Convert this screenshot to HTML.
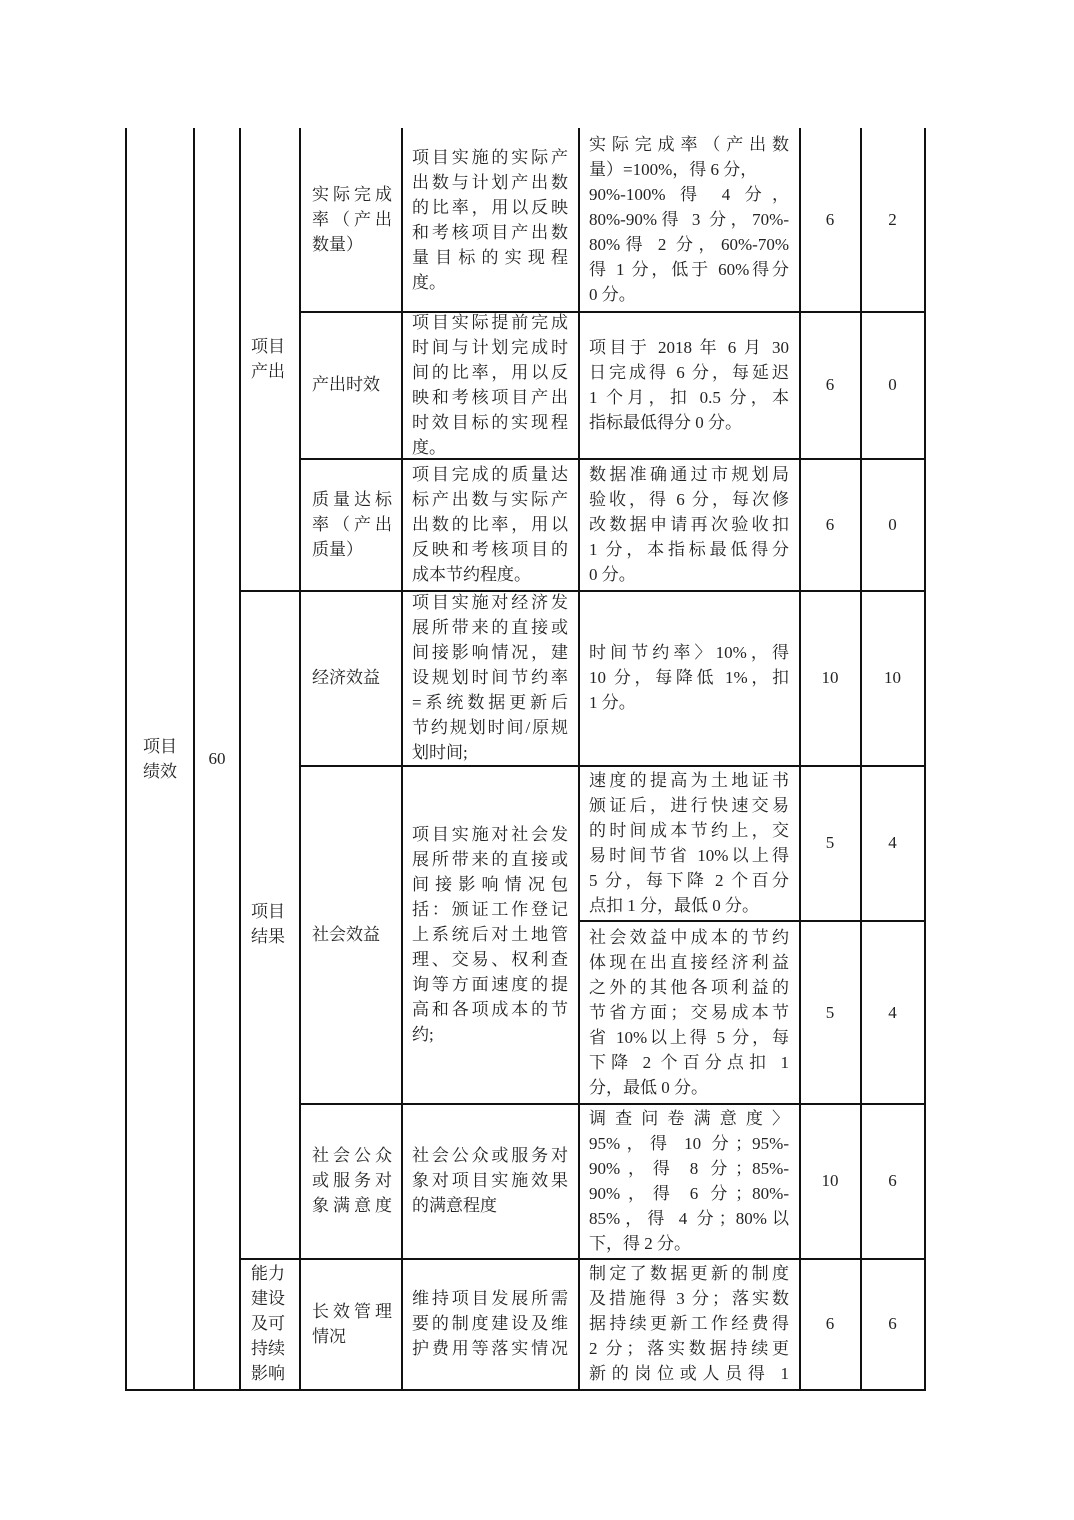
<!DOCTYPE html>
<html><head><meta charset="utf-8"><style>
body{margin:0;background:#fff;}
#p{position:relative;width:1074px;height:1520px;background:#fff;overflow:hidden;font-family:"Liberation Serif","Noto Serif CJK SC","Noto Sans CJK SC",serif;color:#222;font-size:17px;}
.v{position:absolute;width:1.5px;background:#111;top:128px;height:1262px;}
.h{position:absolute;height:1.5px;background:#111;}
.c{position:absolute;display:flex;flex-direction:column;justify-content:center;line-height:25px;}
.c div{white-space:nowrap;}
.f{text-align:justify;text-align-last:justify;}
.m{text-align:center;align-items:center;}
</style></head><body><div id="p">
<div class="v" style="left:125px;width:2px"></div>
<div class="v" style="left:193px"></div>
<div class="v" style="left:239px"></div>
<div class="v" style="left:299px"></div>
<div class="v" style="left:401px"></div>
<div class="v" style="left:578px"></div>
<div class="v" style="left:799px"></div>
<div class="v" style="left:860px"></div>
<div class="v" style="left:924px"></div>
<div class="h" style="left:299px;width:627px;top:311px"></div>
<div class="h" style="left:299px;width:627px;top:458px"></div>
<div class="h" style="left:239px;width:687px;top:590px"></div>
<div class="h" style="left:299px;width:627px;top:765px"></div>
<div class="h" style="left:578px;width:348px;top:920px"></div>
<div class="h" style="left:299px;width:627px;top:1103px"></div>
<div class="h" style="left:239px;width:687px;top:1258px"></div>
<div class="h" style="left:125px;width:801px;top:1389px"></div>

<div class="c m" style="left:126px;width:68px;top:128px;height:1261px"><div>项目</div><div>绩效</div></div>
<div class="c m" style="left:194px;width:46px;top:128px;height:1261px"><div>60</div></div>
<div class="c" style="left:251px;width:48px;top:128px;height:462px"><div>项目</div><div>产出</div></div>
<div class="c" style="left:251px;width:48px;top:590px;height:668px"><div>项目</div><div>结果</div></div>
<div class="c" style="left:251px;width:48px;top:1258px;height:131px"><div>能力</div><div>建设</div><div>及可</div><div>持续</div><div>影响</div></div>

<!-- row1 -->
<div class="c" style="left:312px;width:80px;top:128px;height:183px"><div class="f">实际完成</div><div class="f">率（产出</div><div>数量）</div></div>
<div class="c" style="left:412px;width:156px;top:128px;height:183px"><div class="f">项目实施的实际产</div><div class="f">出数与计划产出数</div><div class="f">的比率，用以反映</div><div class="f">和考核项目产出数</div><div class="f">量目标的实现程</div><div>度。</div></div>
<div class="c" style="left:589px;width:200px;top:128px;height:183px"><div class="f">实际完成率（产出数</div><div>量）=100%，得 6 分，</div><div class="f">90%-100% 得 4 分，</div><div class="f">80%-90%得 3 分，70%-</div><div class="f">80%得 2 分，60%-70%</div><div class="f">得 1 分，低于 60%得分</div><div>0 分。</div></div>
<div class="c m" style="left:800px;width:60px;top:128px;height:183px"><div>6</div></div>
<div class="c m" style="left:861px;width:63px;top:128px;height:183px"><div>2</div></div>

<!-- row2 -->
<div class="c" style="left:312px;width:80px;top:311px;height:147px"><div>产出时效</div></div>
<div class="c" style="left:412px;width:156px;top:311px;height:147px"><div class="f">项目实际提前完成</div><div class="f">时间与计划完成时</div><div class="f">间的比率，用以反</div><div class="f">映和考核项目产出</div><div class="f">时效目标的实现程</div><div>度。</div></div>
<div class="c" style="left:589px;width:200px;top:311px;height:147px"><div class="f">项目于 2018 年 6 月 30</div><div class="f">日完成得 6 分，每延迟</div><div class="f">1 个月，扣 0.5 分，本</div><div>指标最低得分 0 分。</div></div>
<div class="c m" style="left:800px;width:60px;top:311px;height:147px"><div>6</div></div>
<div class="c m" style="left:861px;width:63px;top:311px;height:147px"><div>0</div></div>

<!-- row3 -->
<div class="c" style="left:312px;width:80px;top:458px;height:132px"><div class="f">质量达标</div><div class="f">率（产出</div><div>质量）</div></div>
<div class="c" style="left:412px;width:156px;top:458px;height:132px"><div class="f">项目完成的质量达</div><div class="f">标产出数与实际产</div><div class="f">出数的比率，用以</div><div class="f">反映和考核项目的</div><div>成本节约程度。</div></div>
<div class="c" style="left:589px;width:200px;top:458px;height:132px"><div class="f">数据准确通过市规划局</div><div class="f">验收，得 6 分，每次修</div><div class="f">改数据申请再次验收扣</div><div class="f">1 分，本指标最低得分</div><div>0 分。</div></div>
<div class="c m" style="left:800px;width:60px;top:458px;height:132px"><div>6</div></div>
<div class="c m" style="left:861px;width:63px;top:458px;height:132px"><div>0</div></div>

<!-- row4 -->
<div class="c" style="left:312px;width:80px;top:590px;height:175px"><div>经济效益</div></div>
<div class="c" style="left:412px;width:156px;top:590px;height:175px"><div class="f">项目实施对经济发</div><div class="f">展所带来的直接或</div><div class="f">间接影响情况，建</div><div class="f">设规划时间节约率</div><div class="f">=系统数据更新后</div><div class="f">节约规划时间/原规</div><div>划时间;</div></div>
<div class="c" style="left:589px;width:200px;top:590px;height:175px"><div class="f">时间节约率〉10%，得</div><div class="f">10 分，每降低 1%，扣</div><div>1 分。</div></div>
<div class="c m" style="left:800px;width:60px;top:590px;height:175px"><div>10</div></div>
<div class="c m" style="left:861px;width:63px;top:590px;height:175px"><div>10</div></div>

<!-- row5 -->
<div class="c" style="left:312px;width:80px;top:765px;height:338px"><div>社会效益</div></div>
<div class="c" style="left:412px;width:156px;top:765px;height:338px"><div class="f">项目实施对社会发</div><div class="f">展所带来的直接或</div><div class="f">间接影响情况包</div><div class="f">括：颁证工作登记</div><div class="f">上系统后对土地管</div><div class="f">理、交易、权利查</div><div class="f">询等方面速度的提</div><div class="f">高和各项成本的节</div><div>约;</div></div>
<div class="c" style="left:589px;width:200px;top:765px;height:155px"><div class="f">速度的提高为土地证书</div><div class="f">颁证后，进行快速交易</div><div class="f">的时间成本节约上，交</div><div class="f">易时间节省 10%以上得</div><div class="f">5 分，每下降 2 个百分</div><div>点扣 1 分，最低 0 分。</div></div>
<div class="c m" style="left:800px;width:60px;top:765px;height:155px"><div>5</div></div>
<div class="c m" style="left:861px;width:63px;top:765px;height:155px"><div>4</div></div>
<div class="c" style="left:589px;width:200px;top:921px;height:182px"><div class="f">社会效益中成本的节约</div><div class="f">体现在出直接经济利益</div><div class="f">之外的其他各项利益的</div><div class="f">节省方面；交易成本节</div><div class="f">省 10%以上得 5 分，每</div><div class="f">下降 2 个百分点扣 1</div><div>分，最低 0 分。</div></div>
<div class="c m" style="left:800px;width:60px;top:921px;height:182px"><div>5</div></div>
<div class="c m" style="left:861px;width:63px;top:921px;height:182px"><div>4</div></div>

<!-- row6 -->
<div class="c" style="left:312px;width:80px;top:1103px;height:155px"><div class="f">社会公众</div><div class="f">或服务对</div><div class="f">象满意度</div></div>
<div class="c" style="left:412px;width:156px;top:1103px;height:155px"><div class="f">社会公众或服务对</div><div class="f">象对项目实施效果</div><div>的满意程度</div></div>
<div class="c" style="left:589px;width:200px;top:1103px;height:155px"><div class="f">调查问卷满意度〉</div><div class="f">95%，得 10 分；95%-</div><div class="f">90%，得 8 分；85%-</div><div class="f">90%，得 6 分；80%-</div><div class="f">85%，得 4 分；80%以</div><div>下，得 2 分。</div></div>
<div class="c m" style="left:800px;width:60px;top:1103px;height:155px"><div>10</div></div>
<div class="c m" style="left:861px;width:63px;top:1103px;height:155px"><div>6</div></div>

<!-- row7 -->
<div class="c" style="left:312px;width:80px;top:1258px;height:131px"><div class="f">长效管理</div><div>情况</div></div>
<div class="c" style="left:412px;width:156px;top:1258px;height:131px"><div class="f">维持项目发展所需</div><div class="f">要的制度建设及维</div><div class="f">护费用等落实情况</div></div>
<div class="c" style="left:589px;width:200px;top:1258px;height:131px"><div class="f">制定了数据更新的制度</div><div class="f">及措施得 3 分；落实数</div><div class="f">据持续更新工作经费得</div><div class="f">2 分；落实数据持续更</div><div class="f">新的岗位或人员得 1</div></div>
<div class="c m" style="left:800px;width:60px;top:1258px;height:131px"><div>6</div></div>
<div class="c m" style="left:861px;width:63px;top:1258px;height:131px"><div>6</div></div>
</div></body></html>
